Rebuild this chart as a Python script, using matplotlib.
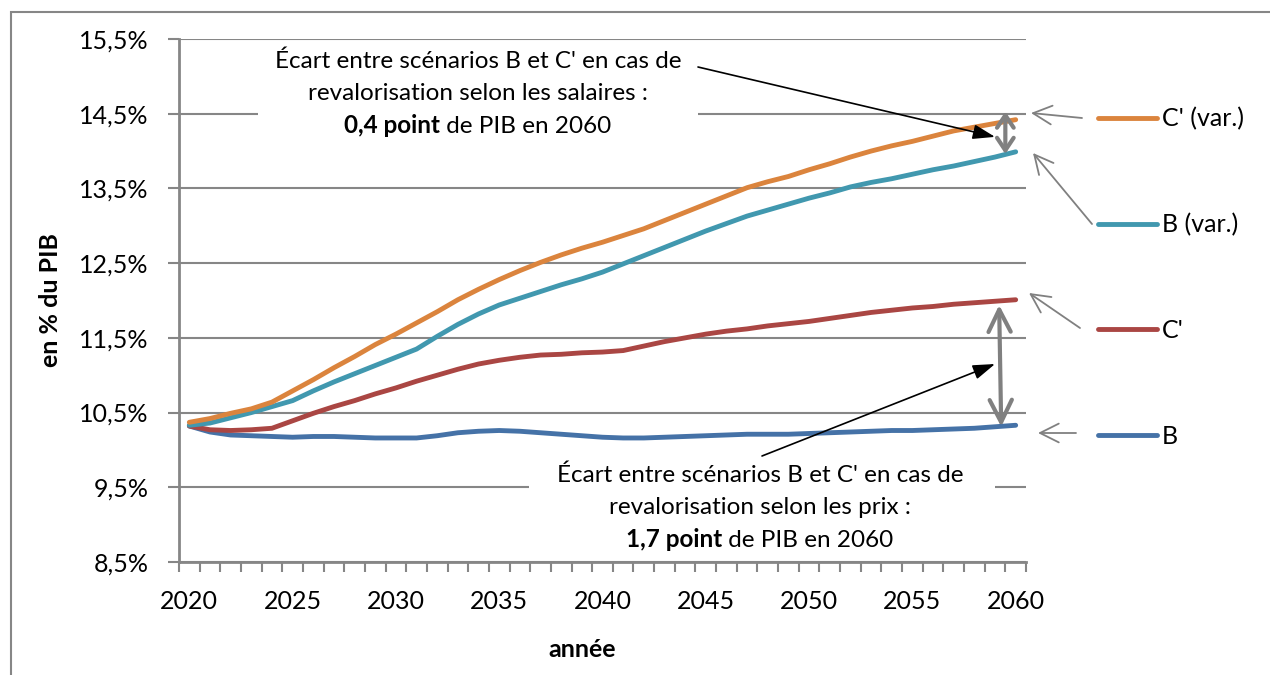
import matplotlib
matplotlib.use("Agg")
import matplotlib.pyplot as plt
from matplotlib.lines import Line2D
from matplotlib.patches import Rectangle
from matplotlib.ticker import FuncFormatter, MultipleLocator

plt.rcParams['font.family'] = ['Lato', 'DejaVu Sans']

W, H = 1270, 675

years = list(range(2020, 2061))

# en % du PIB
b = [10.32, 10.24, 10.20, 10.19, 10.18, 10.17, 10.18, 10.18, 10.17, 10.16,
     10.16, 10.16, 10.19, 10.23, 10.25, 10.26, 10.25, 10.23, 10.21, 10.19,
     10.17, 10.16, 10.16, 10.17, 10.18, 10.19, 10.20, 10.21, 10.21, 10.21,
     10.22, 10.23, 10.24, 10.25, 10.26, 10.26, 10.27, 10.28, 10.29, 10.31,
     10.33]
c_prime = [10.32, 10.27, 10.26, 10.27, 10.29, 10.39, 10.49, 10.58, 10.66, 10.75,
           10.83, 10.92, 11.00, 11.08, 11.15, 11.20, 11.24, 11.27, 11.28, 11.30,
           11.31, 11.33, 11.39, 11.45, 11.50, 11.55, 11.59, 11.62, 11.66, 11.69,
           11.72, 11.76, 11.80, 11.84, 11.87, 11.90, 11.92, 11.95, 11.97, 11.99,
           12.01]
b_var = [10.33, 10.36, 10.43, 10.50, 10.58, 10.66, 10.79, 10.91, 11.02, 11.13,
         11.24, 11.35, 11.52, 11.68, 11.82, 11.94, 12.03, 12.12, 12.21, 12.29,
         12.38, 12.49, 12.60, 12.71, 12.82, 12.93, 13.03, 13.13, 13.21, 13.29,
         13.37, 13.44, 13.52, 13.58, 13.63, 13.69, 13.75, 13.80, 13.86, 13.92,
         13.99]
c_prime_var = [10.37, 10.42, 10.49, 10.55, 10.64, 10.79, 10.94, 11.10, 11.25, 11.41,
               11.55, 11.70, 11.85, 12.01, 12.15, 12.28, 12.40, 12.51, 12.61, 12.70,
               12.78, 12.87, 12.96, 13.07, 13.18, 13.29, 13.40, 13.51, 13.59, 13.66,
               13.75, 13.83, 13.92, 14.00, 14.07, 14.13, 14.20, 14.27, 14.32, 14.37,
               14.42]

# legend order, top to bottom
series = [
    ("C' (var.)", c_prime_var, '#DB843D'),
    ("B (var.)", b_var, '#4198AF'),
    ("C'", c_prime, '#AA4643'),
    ("B", b, '#4572A7'),
]

GRAY = '#868686'
ARROW_GRAY = '#808080'
FS = 17.5


def px(x, y):
    """ Pixel position (from top left) to figure fraction. """
    return x / W, 1 - y / H


fig = plt.figure(figsize=(W / 100, H / 100), dpi=100)
ax = fig.add_axes([179 / W, 1 - 562 / H, (1026 - 179) / W, (562 - 39) / H])

# outer frame
fig.add_artist(Rectangle(px(11, 700), 1.2, (700 - 12) / H,
                         transform=fig.transFigure, fill=False,
                         ec=GRAY, lw=1.5))

for name, values, color in reversed(series):
    ax.plot(years, values, color=color, lw=3.5, solid_capstyle='round',
            zorder=3)

ax.set_xlim(2019.5, 2060.5)
ax.set_ylim(8.5, 15.5)
ax.yaxis.set_major_locator(MultipleLocator(1, offset=0.5))
ax.yaxis.set_major_formatter(
    FuncFormatter(lambda v, pos: ("%.1f%%" % v).replace('.', ',')))
ax.xaxis.set_major_locator(MultipleLocator(5))
ax.xaxis.set_minor_locator(MultipleLocator(1, offset=0.5))
ax.xaxis.set_major_formatter(FuncFormatter(lambda v, pos: "%d" % v))

ax.grid(axis='y', color=GRAY, lw=1.5)
ax.set_axisbelow(True)
for side in ('top', 'right'):
    ax.spines[side].set_visible(False)
for side in ('left', 'bottom'):
    ax.spines[side].set_color(GRAY)
    ax.spines[side].set_linewidth(2)
ax.tick_params(axis='y', length=8, width=1.5, color=GRAY, pad=14,
               labelsize=18)
ax.tick_params(axis='x', which='major', length=0, pad=20, labelsize=18)
ax.tick_params(axis='x', which='minor', length=7, width=1.5, color=GRAY)

ax.text(*px(50, 300), "en % du PIB", transform=fig.transFigure,
        rotation=90, ha='center', va='center', fontsize=18,
        fontweight='bold')
ax.text(*px(582, 657), "année", transform=fig.transFigure, ha='center',
        va='baseline', fontsize=18, fontweight='bold')

# white boxes behind the comments (hide the gridlines)
for x0, y0, x1, y1 in [(258, 44, 698, 150), (529, 455, 995, 555)]:
    ax.add_patch(Rectangle(px(x0, y1), (x1 - x0) / W, (y1 - y0) / H,
                           transform=fig.transFigure, fc='white',
                           ec='none', zorder=1, clip_on=False))


def rich_line(xc, yb, bold, normal):
    t1 = fig.text(0, 0, bold, fontsize=FS, fontweight='bold', va='baseline')
    t2 = fig.text(0, 0, normal, fontsize=FS, va='baseline')
    renderer = fig.canvas.get_renderer()
    w1 = t1.get_window_extent(renderer).width
    w2 = t2.get_window_extent(renderer).width
    x0 = xc - (w1 + w2) / 2
    t1.set_position(px(x0, yb))
    t2.set_position(px(x0 + w1, yb))


def comment(xc, yb, line1, line2, bold, normal):
    fig.text(*px(xc, yb), line1, ha='center', va='baseline', fontsize=FS)
    fig.text(*px(xc, yb + 32.5), line2, ha='center', va='baseline',
             fontsize=FS)
    rich_line(xc, yb + 65, bold, normal)


comment(478, 68, "Écart entre scénarios B et C' en cas de",
        "revalorisation selon les salaires :", "0,4 point",
        " de PIB en 2060")
comment(760, 482, "Écart entre scénarios B et C' en cas de",
        "revalorisation selon les prix :", "1,7 point", " de PIB en 2060")

# gaps in 2060
ax.annotate('', xy=(2059.5, c_prime_var[-1] + 0.11),
            xytext=(2059.5, b_var[-1] - 0.03),
            arrowprops=dict(arrowstyle='<->,head_length=0.9,head_width=0.6',
                            color=ARROW_GRAY, lw=3, mutation_scale=10,
                            shrinkA=0, shrinkB=0), zorder=4)
ax.annotate('', xy=(2059.2, c_prime[-1] - 0.07),
            xytext=(2059.3, b[-1] - 0.02),
            arrowprops=dict(arrowstyle='<->,head_length=1.6,head_width=0.8',
                            color=ARROW_GRAY, lw=3, mutation_scale=10,
                            shrinkA=0, shrinkB=0), zorder=4)

# comment pointers
ax.annotate('', xy=(2059.0, 14.19), xytext=px(698, 67),
            textcoords='figure fraction',
            arrowprops=dict(arrowstyle='-|>,head_length=0.9,head_width=0.3',
                            color='black', lw=1.2, mutation_scale=15,
                            shrinkA=0, shrinkB=0), zorder=5)
ax.annotate('', xy=(2059.0, 11.15), xytext=px(762, 456),
            textcoords='figure fraction',
            arrowprops=dict(arrowstyle='-|>,head_length=0.9,head_width=0.3',
                            color='black', lw=1.2, mutation_scale=15,
                            shrinkA=0, shrinkB=0), zorder=5)

# legend, one row per series, with a pointer to the end of its line
legend_y = [118, 224, 329, 435]
pointers = [((1082, 118), (1031, 113)), ((1092, 224), (1033, 153)),
            ((1080, 328), (1029, 293)), ((1076, 433), (1038, 433))]
for (name, values, color), y, (start, end) in zip(series, legend_y, pointers):
    fig.add_artist(Line2D([1098 / W, 1157 / W], [1 - y / H, 1 - y / H],
                          transform=fig.transFigure, color=color, lw=3.5,
                          solid_capstyle='round'))
    fig.text(*px(1162, y + 8.5), name, va='baseline', fontsize=18)
    ax.annotate('', xy=px(*end), xycoords='figure fraction',
                xytext=px(*start), textcoords='figure fraction',
                arrowprops=dict(arrowstyle='->,head_length=0.9,head_width=0.45',
                                color=ARROW_GRAY, lw=1.3, mutation_scale=15,
                                shrinkA=0, shrinkB=0),
                annotation_clip=False)

fig.savefig('out.png', dpi=100)
